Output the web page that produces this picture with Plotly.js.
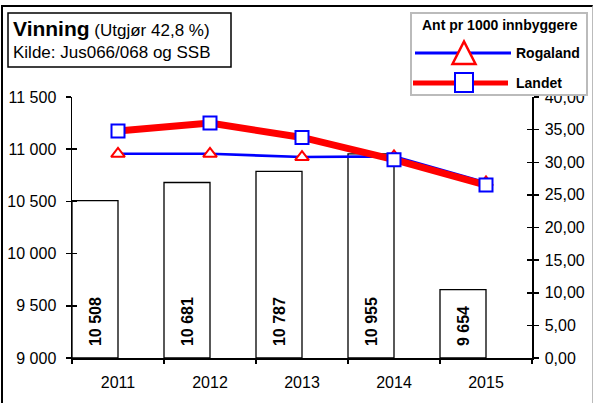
<!DOCTYPE html>
<html>
<head>
<meta charset="utf-8">
<script src="https://cdn.plot.ly/plotly-3.0.1.min.js"></script>
<style>
  html, body { margin: 0; padding: 0; background: #fff; }
  #wrap { position: relative; width: 595px; height: 403px; }
  #chart { width: 595px; height: 403px; }
  #frame { position: absolute; left: 1px; top: 5px; width: 592px; height: 400px;
           border-top: 2px solid #000; border-left: 2px solid #000; border-right: 1px solid #bbb;
           pointer-events: none; box-sizing: border-box; }
</style>
</head>
<body>
<div id="wrap">
  <div id="chart"></div>
  <div id="frame"></div>
</div>
<script>
// ---- data ----
const years = ['2011', '2012', '2013', '2014', '2015'];
const vinningCount = [10508, 10681, 10787, 10955, 9654];
const rogalandPer1000 = [31.3, 31.3, 30.8, 30.9, 26.9];
const landetPer1000 = [34.8, 36.0, 33.8, 30.4, 26.5];
const leftTicks = [9000, 9500, 10000, 10500, 11000, 11500];
const rightTicks = [0, 5, 10, 15, 20, 25, 30, 35, 40];
const titleMain = 'Vinning';
const titleNote = '(Utgjør 42,8 %)';
const titleSource = 'Kilde: Jus066/068 og SSB';
const legendTitle = 'Ant pr 1000 innbyggere';
const seriesNames = ['Rogaland', 'Landet'];
const leftBase = 9000;

// ---- layout geometry (pixels -> paper) ----
const L = 72, R = 532, T = 97, B = 358;
const X = px => (px - L) / (R - L);
const Y = py => (B - py) / (B - T);
const FONT = 'Arial, "Liberation Sans", sans-serif';
const NB = '\u00a0';

const traces = [
  {
    type: 'bar', x: years,
    y: vinningCount.map(v => v - leftBase), base: leftBase,
    offset: -0.5, width: 0.5,
    marker: { color: '#ffffff', line: { color: '#000', width: 1.3 } },
    text: vinningCount.map(v => NB + NB + String(v).replace(/\B(?=(\d{3})+(?!\d))/g, ' ')),
    textposition: 'inside', insidetextanchor: 'start', textangle: -90,
    constraintext: 'none', cliponaxis: false,
    textfont: { family: FONT, size: 16, color: '#000', weight: 'bold' },
    hoverinfo: 'skip', showlegend: false, xaxis: 'x', yaxis: 'y'
  },
  {
    type: 'scatter', mode: 'lines+markers', x: years, y: rogalandPer1000,
    name: seriesNames[0], yaxis: 'y2', xaxis: 'x',
    line: { color: '#0000ff', width: 2.6 },
    marker: { symbol: 'triangle-up', size: 12, color: '#ffffff', line: { color: '#ff0000', width: 2 } },
    showlegend: false, cliponaxis: false
  },
  {
    type: 'scatter', mode: 'lines+markers', x: years, y: landetPer1000,
    name: seriesNames[1], yaxis: 'y2', xaxis: 'x',
    line: { color: '#ff0000', width: 7 },
    marker: { symbol: 'square', size: 13, color: '#ffffff', line: { color: '#0000ff', width: 2 } },
    showlegend: false, cliponaxis: false
  },
  { type: 'scatter', x: [], y: [], xaxis: 'x', yaxis: 'y3', showlegend: false, hoverinfo: 'skip' },
  { type: 'scatter', x: [], y: [], xaxis: 'x', yaxis: 'y4', showlegend: false, hoverinfo: 'skip' }
];

const axisFont = { family: FONT, size: 16, color: '#000' };

const layout = {
  width: 595, height: 403,
  margin: { l: L, r: 595 - R, t: T, b: 403 - B, pad: 0 },
  paper_bgcolor: '#fff', plot_bgcolor: '#fff',
  separators: ', ',
  showlegend: false,
  bargap: 0,
  xaxis: {
    type: 'category', range: [-0.5, 4.5], fixedrange: true,
    showline: true, linecolor: '#000', linewidth: 1.5,
    ticks: 'outside', ticklen: 4, tickcolor: '#000', tickwidth: 1.5, tickson: 'boundaries',
    showgrid: false, zeroline: false, tickfont: axisFont, ticklabelstandoff: 9
  },
  yaxis: {
    range: [9000, 11500], tickvals: leftTicks, tickformat: ',d',
    showline: true, linecolor: '#000', linewidth: 1.5,
    ticks: 'outside', ticklen: 5, tickcolor: '#000', tickwidth: 1.5,
    showgrid: false, zeroline: false, tickfont: axisFont, ticklabelstandoff: 6
  },
  yaxis2: {
    range: [0, 40], tickvals: rightTicks, tickformat: '.2f',
    overlaying: 'y', side: 'right', anchor: 'x',
    showline: true, linecolor: '#000', linewidth: 1.5,
    ticks: 'outside', ticklen: 5, tickcolor: '#000', tickwidth: 1.5,
    showgrid: false, zeroline: false, tickfont: axisFont, ticklabelstandoff: 3
  },
  yaxis3: {
    range: [9000, 11500], tickvals: leftTicks, overlaying: 'y', side: 'left', anchor: 'x',
    showline: false, ticks: 'inside', ticklen: 5, tickcolor: '#000', tickwidth: 1.5,
    showticklabels: false, showgrid: false, zeroline: false
  },
  yaxis4: {
    range: [0, 40], tickvals: rightTicks, overlaying: 'y', side: 'right', anchor: 'x',
    showline: false, ticks: 'inside', ticklen: 5, tickcolor: '#000', tickwidth: 1.5,
    showticklabels: false, showgrid: false, zeroline: false
  },
  shapes: [
    // title box
    { type: 'rect', xref: 'paper', yref: 'paper', x0: X(8), x1: X(231), y0: Y(13), y1: Y(67),
      line: { color: '#000', width: 1.5 }, fillcolor: '#fff', layer: 'above' },
    // legend box
    { type: 'rect', xref: 'paper', yref: 'paper', x0: X(411), x1: X(587), y0: Y(13), y1: Y(95),
      line: { color: '#bbb', width: 2 }, fillcolor: '#fff', layer: 'above' },
    { type: 'line', xref: 'paper', yref: 'paper', x0: X(415), x1: X(511), y0: Y(53), y1: Y(53),
      line: { color: '#0000ff', width: 3 }, layer: 'above' },
    { type: 'path', xref: 'paper', yref: 'paper',
      path: `M${X(452.5)},${Y(64)} L${X(475.5)},${Y(64)} L${X(464)},${Y(41.5)} Z`,
      line: { color: '#ff0000', width: 2.5 }, fillcolor: '#fff', layer: 'above' },
    { type: 'line', xref: 'paper', yref: 'paper', x0: X(413), x1: X(508), y0: Y(83), y1: Y(83),
      line: { color: '#ff0000', width: 5 }, layer: 'above' },
    { type: 'rect', xref: 'paper', yref: 'paper', x0: X(455), x1: X(473), y0: Y(73), y1: Y(92),
      line: { color: '#0000ff', width: 2 }, fillcolor: '#fff', layer: 'above' }
  ],
  annotations: [
    { xref: 'paper', yref: 'paper', x: X(11), y: Y(40), xanchor: 'left', yanchor: 'middle',
      showarrow: false, align: 'left',
      text: `<span style="font-size:21px"><b>${titleMain}</b></span> ${titleNote}<br>${titleSource}`,
      font: { family: FONT, size: 17, color: '#000' } },
    { xref: 'paper', yref: 'paper', x: X(500), y: Y(25), xanchor: 'center', yanchor: 'middle',
      showarrow: false, text: `<b>${legendTitle}</b>`,
      font: { family: FONT, size: 14, color: '#000' } },
    { xref: 'paper', yref: 'paper', x: X(514), y: Y(53), xanchor: 'left', yanchor: 'middle',
      showarrow: false, text: `<b>${seriesNames[0]}</b>`,
      font: { family: FONT, size: 14, color: '#000' } },
    { xref: 'paper', yref: 'paper', x: X(514), y: Y(83), xanchor: 'left', yanchor: 'middle',
      showarrow: false, text: `<b>${seriesNames[1]}</b>`,
      font: { family: FONT, size: 14, color: '#000' } }
  ]
};

Plotly.newPlot('chart', traces, layout, { staticPlot: true, displayModeBar: false });
</script>
</body>
</html>
